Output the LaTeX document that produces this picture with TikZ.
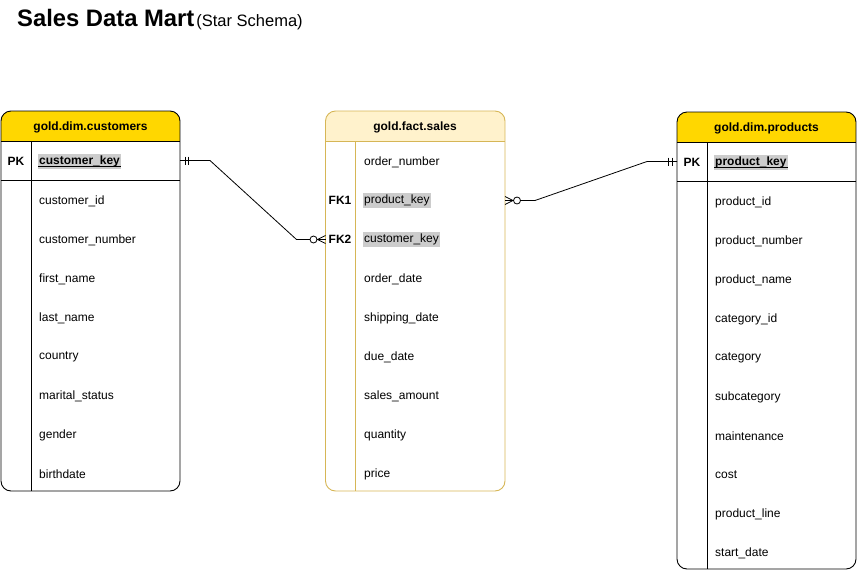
\documentclass[tikz,border=0pt]{standalone}
\usepackage{fontspec}
\setmainfont{Liberation Sans}
\usetikzlibrary{calc}
\definecolor{gold}{HTML}{FFD700}
\definecolor{factfill}{HTML}{FFF2CC}
\definecolor{factline}{HTML}{D6B656}
\definecolor{hl}{HTML}{CCCCCC}
\tikzset{
  tbl/.style={draw=black, line width=0.9pt, rounded corners=10pt, inner sep=0pt, outer sep=0pt, anchor=north west},
  rule/.style={draw=black, line width=0.9pt},
  hdrtext/.style={font=\fontsize{12}{14}\selectfont\bfseries, inner sep=0pt},
  field/.style={font=\fontsize{12}{14}\selectfont, anchor=west, inner sep=0pt},
  keytext/.style={font=\fontsize{12}{14}\selectfont\bfseries, inner sep=0pt},
  hlfield/.style={field, fill=hl, inner xsep=1pt, inner ysep=2pt},
  conn/.style={draw=black, line width=0.8pt},
}
\begin{document}
\begin{tikzpicture}[x=1pt,y=-1pt]
\useasboundingbox (0,0) rectangle (857,571);
% title
\node[anchor=base west, inner sep=0pt, font=\fontsize{23.8}{26}\selectfont\bfseries] (title) at (17,26) {Sales Data Mart};
\node[anchor=base west, inner sep=0pt, font=\fontsize{16.5}{18}\selectfont] (sub) at ([xshift=1.5pt]title.base east) {(Star Schema)};

% ===== customers =====
\begin{scope}
  \clip[rounded corners=10pt] (1,111) rectangle (180,491);
  \fill[gold] (1,111) rectangle (180,141);
\end{scope}
\node[tbl, minimum width=179pt, minimum height=380pt] (cust) at (1,111) {};
\draw[rule] (1,141) -- (180,141);
\draw[rule] (1,180) -- (180,180);
\draw[rule] (31,141) -- (31,491);
\node[hdrtext] (custh) at (90.5,127) {gold.dim.customers};
\node[keytext] (custpk) at (16,161.5) {PK};
\node[hlfield, font=\fontsize{12}{14}\selectfont\bfseries] (ckey) at (38,161.5) {customer\_key};
\draw[line width=0.8pt] ([yshift=-2pt]ckey.base west) -- ([yshift=-2pt]ckey.base east);
\foreach \t [count=\i] in {customer\_id, customer\_number, first\_name, last\_name, country, marital\_status, gender, birthdate}
  \node[field] (c\i) at (39,{162+39*\i}) {\t};

% ===== fact sales =====
\begin{scope}
  \clip[rounded corners=10pt] (325.5,111) rectangle (505,491);
  \fill[factfill] (325.5,111) rectangle (505,141);
\end{scope}
\node[tbl, draw=factline, minimum width=179.5pt, minimum height=380pt] (fact) at (325.5,111) {};
\draw[rule, draw=factline] (325.5,141) -- (505,141);
\draw[rule, draw=factline] (355.5,141) -- (355.5,491);
\node[hdrtext] (facth) at (415,127) {gold.fact.sales};
\node[field] (f0) at (364,162) {order\_number};
\node[keytext] (fk1) at (340,200.5) {FK1};
\node[hlfield] (fpk) at (363,200.5) {product\_key};
\node[keytext] (fk2) at (340,239.5) {FK2};
\node[hlfield] (fck) at (363,239.5) {customer\_key};
\foreach \t [count=\i] in {order\_date, shipping\_date, due\_date, sales\_amount, quantity, price}
  \node[field] (f\i) at (364,{240+39*\i}) {\t};

% ===== products =====
\begin{scope}
  \clip[rounded corners=10pt] (677,112) rectangle (856,569);
  \fill[gold] (677,112) rectangle (856,142);
\end{scope}
\node[tbl, minimum width=179pt, minimum height=457pt] (prod) at (677,112) {};
\draw[rule] (677,142) -- (856,142);
\draw[rule] (677,181) -- (856,181);
\draw[rule] (707,142) -- (707,569);
\node[hdrtext] (prodh) at (766.5,128) {gold.dim.products};
\node[keytext] (prodpk) at (692,162.5) {PK};
\node[hlfield, font=\fontsize{12}{14}\selectfont\bfseries] (pkey) at (714,162.5) {product\_key};
\draw[line width=0.8pt] ([yshift=-2pt]pkey.base west) -- ([yshift=-2pt]pkey.base east);
\foreach \t [count=\i] in {product\_id, product\_number, product\_name, category\_id, category, subcategory, maintenance, cost, product\_line, start\_date}
  \node[field] (p\i) at (715,{163+39*\i}) {\t};

% ===== connectors =====
\coordinate (cA) at ([yshift=1pt]ckey -| cust.east);
\coordinate (fB) at (fck -| fact.west);
\draw[conn] (cA) -- ++(30,0) -- ($(fB)+(-29,0)$) -- ($(fB)+(-15.5,0)$);
\draw[conn] ($(cA)+(5,-4)$) -- ++(0,8);
\draw[conn] ($(cA)+(8.5,-4)$) -- ++(0,8);
\draw[conn, fill=white] ($(fB)+(-12,0)$) circle (3.5);
\draw[conn] ($(fB)+(-8.5,0)$) -- (fB);
\draw[conn] ($(fB)+(0,-4)$) -- ($(fB)+(-8,0)$) -- ($(fB)+(0,4)$);

\coordinate (fC) at (fpk -| fact.east);
\coordinate (pD) at ([yshift=1pt]pkey -| prod.west);
\draw[conn] ($(fC)+(15.5,0)$) -- ($(fC)+(30,0)$) -- ($(pD)+(-30,0)$) -- (pD);
\draw[conn] ($(pD)+(-8.5,-4)$) -- ++(0,8);
\draw[conn] ($(pD)+(-5,-4)$) -- ++(0,8);
\draw[conn, fill=white] ($(fC)+(12,0)$) circle (3.5);
\draw[conn] ($(fC)+(8.5,0)$) -- (fC);
\draw[conn] ($(fC)+(0,-4)$) -- ($(fC)+(8,0)$) -- ($(fC)+(0,4)$);
\end{tikzpicture}
\end{document}
